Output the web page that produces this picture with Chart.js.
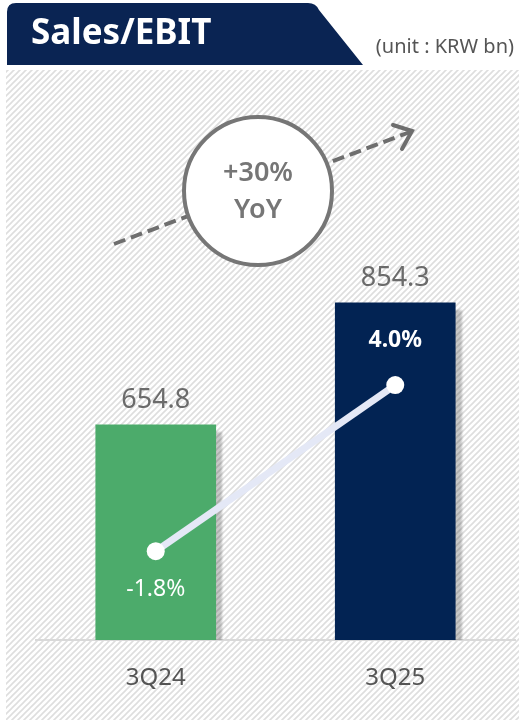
<!DOCTYPE html>
<html>
<head>
<meta charset="utf-8">
<script src="https://cdn.jsdelivr.net/npm/chart.js@4"></script>
<style>
  html, body { margin: 0; padding: 0; background: #fff; }
  #wrap { position: relative; width: 519px; height: 720px; }
</style>
</head>
<body>
<div id="wrap"><canvas id="salesChart" width="519" height="720"></canvas></div>
<script>
// data
var categories = ['3Q24', '3Q25'];
var sales = [654.8, 854.3];          // KRW bn
var ebitMargin = [-1.8, 4.0];        // %
var yoyText = ['+30%', 'YoY'];

var barColors = ['#4cab6b', '#022353'];
var navy = '#0a2453';

// diagonal hatch used as page background
function makeHatch(ctx) {
    var c = document.createElement('canvas');
    c.width = 6; c.height = 6;
    var p = c.getContext('2d');
    p.fillStyle = '#fff';
    p.fillRect(0, 0, 6, 6);
    p.strokeStyle = '#dedede';
    p.lineWidth = 1.6;
    p.beginPath();
    p.moveTo(-1, 7); p.lineTo(7, -1);
    p.moveTo(-4, 4); p.lineTo(4, -4);
    p.moveTo(2, 10); p.lineTo(10, 2);
    p.stroke();
    return ctx.createPattern(c, 'repeat');
}

var backdrop = {
    id: 'backdrop',
    beforeDraw: function (chart) {
        var ctx = chart.ctx;
        ctx.save();
        ctx.fillStyle = '#fff';
        ctx.fillRect(0, 0, chart.width, chart.height);
        ctx.fillStyle = makeHatch(ctx);
        ctx.fillRect(6, 70, chart.width - 6, chart.height - 70);

        // title banner
        ctx.fillStyle = navy;
        ctx.beginPath();
        ctx.moveTo(7, 65);
        ctx.lineTo(7, 12);
        ctx.quadraticCurveTo(7, 3, 16, 3);
        ctx.lineTo(308, 3);
        ctx.quadraticCurveTo(316, 3, 319, 10);
        ctx.lineTo(363, 65);
        ctx.closePath();
        ctx.fill();

        ctx.fillStyle = '#fff';
        ctx.font = 'bold 35px "Noto Sans"';
        ctx.textBaseline = 'middle';
        ctx.textAlign = 'left';
        ctx.fillText('Sales/EBIT', 31, 34);

        ctx.fillStyle = '#555';
        ctx.font = '20px "Noto Sans"';
        ctx.textAlign = 'right';
        ctx.fillText('(unit : KRW bn)', 514, 47);
        ctx.restore();
    },
    afterDraw: function (chart) {
        var ctx = chart.ctx;
        ctx.save();
        // dashed trend arrow
        ctx.strokeStyle = '#6e6e6e';
        ctx.lineWidth = 4;
        ctx.setLineDash([12, 6]);
        ctx.beginPath();
        ctx.moveTo(114, 244);
        ctx.lineTo(410, 132);
        ctx.stroke();
        ctx.setLineDash([]);
        ctx.lineCap = 'round';
        ctx.beginPath();
        ctx.moveTo(393, 125);
        ctx.lineTo(412, 131);
        ctx.lineTo(402, 149);
        ctx.stroke();

        // YoY circle
        ctx.beginPath();
        ctx.arc(258, 191, 74, 0, Math.PI * 2);
        ctx.fillStyle = '#fff';
        ctx.fill();
        ctx.lineWidth = 4;
        ctx.strokeStyle = '#767676';
        ctx.stroke();

        ctx.fillStyle = '#767676';
        ctx.font = '600 27px "Noto Sans"';
        ctx.textAlign = 'center';
        ctx.textBaseline = 'middle';
        ctx.fillText(yoyText[0], 258, 173);
        ctx.fillText(yoyText[1], 258, 210);
        ctx.restore();
    }
};

var barShadow = {
    id: 'barShadow',
    beforeDatasetDraw: function (chart, args) {
        if (args.meta.type !== 'bar') return;
        var ctx = chart.ctx;
        ctx.save();
        ctx.shadowColor = 'rgba(0,0,0,0.22)';
        ctx.shadowBlur = 2;
        ctx.shadowOffsetX = 6;
        ctx.shadowOffsetY = 7;
    },
    afterDatasetDraw: function (chart, args) {
        if (args.meta.type !== 'bar') return;
        chart.ctx.restore();
    }
};

var valueLabels = {
    id: 'valueLabels',
    afterDatasetsDraw: function (chart) {
        var ctx = chart.ctx;
        ctx.save();
        ctx.textAlign = 'center';
        ctx.textBaseline = 'middle';
        chart.data.datasets.forEach(function (ds, i) {
            var meta = chart.getDatasetMeta(i);
            meta.data.forEach(function (el, j) {
                var v = ds.data[j];
                if (meta.type === 'bar') {
                    ctx.fillStyle = '#6b6b6b';
                    ctx.font = '27px "Noto Sans"';
                    ctx.fillText(v.toFixed(1), el.x, el.y - 25);
                } else {
                    ctx.fillStyle = '#fff';
                    var last = j === ds.data.length - 1;
                    ctx.font = (last ? 'bold ' : '') + '23px "Noto Sans"';
                    var dy = v < 0 ? 38 : -45;
                    ctx.fillText(v.toFixed(1) + '%', el.x, el.y + dy);
                }
            });
        });
        ctx.restore();
    }
};

var ctx = document.getElementById('salesChart').getContext('2d');
var chart = new Chart(ctx, {
    data: {
        labels: categories,
        datasets: [
            {
                type: 'line',
                label: 'EBIT margin',
                data: ebitMargin,
                yAxisID: 'y2',
                borderColor: '#e4e8f6',
                borderWidth: 7,
                pointRadius: 9,
                pointBackgroundColor: '#fff',
                pointBorderWidth: 0,
                order: 0
            },
            {
                type: 'bar',
                label: 'Sales',
                data: sales,
                yAxisID: 'y',
                backgroundColor: barColors,
                barThickness: 120,
                order: 1
            }
        ]
    },
    plugins: [backdrop, barShadow, valueLabels],
    options: {
        responsive: false,
        animation: false,
        events: [],
        layout: { autoPadding: false, padding: { left: 36, right: 4, top: 100, bottom: 0 } },
        plugins: { legend: { display: false }, tooltip: { enabled: false } },
        scales: {
            x: {
                grid: { display: false, drawTicks: false },
                border: { display: true, color: '#d9d9d9', width: 2 },
                ticks: { color: '#555', font: { family: 'Noto Sans', size: 24 }, padding: 24 },
                afterFit: function (scale) { scale.height = 80; }
            },
            y: { display: false, min: 303, max: 1186 },
            y2: { display: false, min: -4.9, max: 13.95 }
        }
    }
});
</script>
</body>
</html>
